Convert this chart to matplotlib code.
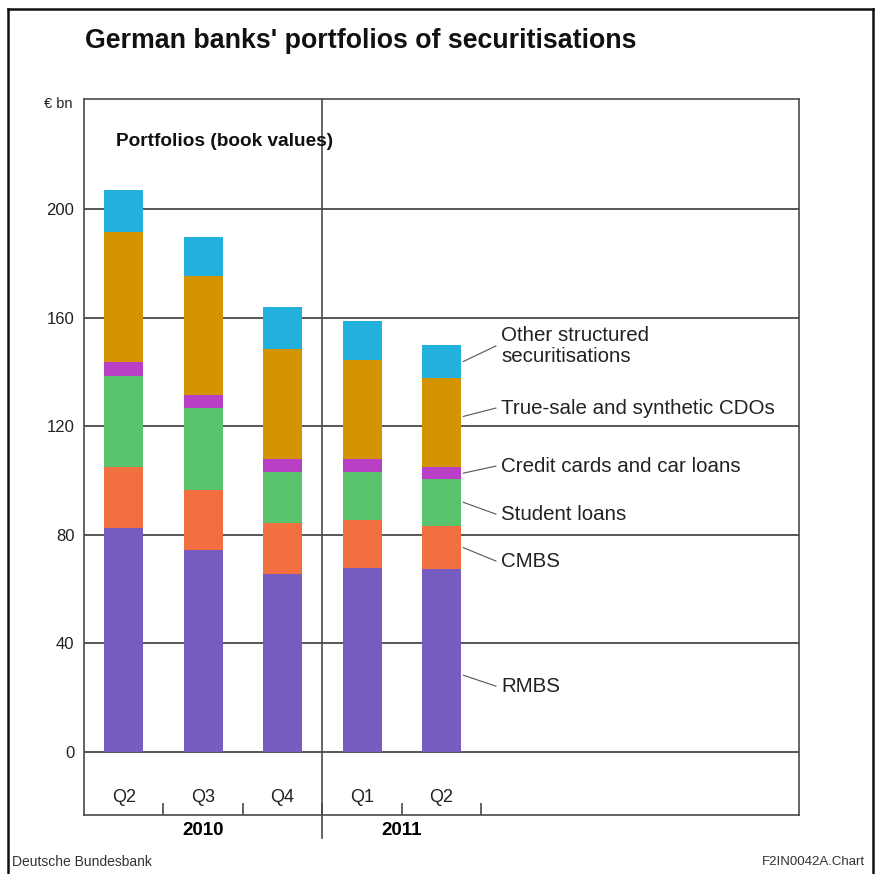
import matplotlib
matplotlib.use("Agg")
import matplotlib.pyplot as plt
from matplotlib.lines import Line2D

plt.rcParams["font.family"] = ["Liberation Sans", "DejaVu Sans"]

# Data (EUR bn, book values)
quarters = ["Q2", "Q3", "Q4", "Q1", "Q2"]
years = ["2010", "2011"]
rmbs = [82.6, 74.4, 65.5, 67.7, 67.2]
cmbs = [22.2, 22.0, 18.7, 17.7, 16.1]
student = [33.8, 30.2, 18.9, 17.7, 17.3]
credit = [5.2, 4.9, 4.8, 4.7, 4.2]
cdos = [47.9, 43.7, 40.4, 36.6, 33.0]
other = [15.4, 14.4, 15.8, 14.4, 12.1]

series = [rmbs, cmbs, student, credit, cdos, other]
names = ["RMBS", "CMBS", "Student loans", "Credit cards and car loans",
         "True-sale and synthetic CDOs", "Other structured\nsecuritisations"]
colors = ["#775DC1", "#F26F42", "#58C56E", "#B940C6", "#D49400", "#22B0DF"]

# label layout for the last bar
label_y = [24.2, 70.3, 87.6, 105.3, 126.7, 149.6]
leader_frac = [0.42, 0.5, 0.5, 0.5, 0.57, 0.5]

fig = plt.figure(figsize=(8.76, 8.74), dpi=100)
ax = fig.add_axes([84 / 876, 1 - 815 / 874, 715 / 876, 715.7 / 874])

x = [i + 0.5 for i in range(len(quarters))]
bottom = [0.0] * len(quarters)
last_bottoms = []
for vals, col in zip(series, colors):
    ax.bar(x, vals, width=0.49, bottom=bottom, color=col, edgecolor="none", zorder=3)
    last_bottoms.append(bottom[-1])
    bottom = [b + v for b, v in zip(bottom, vals)]

ax.set_xlim(0, 9)
ax.set_ylim(-23.3, 240.5)

# gridlines
ax.set_yticks([0, 40, 80, 120, 160, 200])
ax.yaxis.grid(True, color="#4a4a4a", linewidth=1.3, zorder=1)
ax.set_axisbelow(True)
ax.tick_params(axis="y", length=0, pad=7, labelsize=12, labelcolor="#222222")

# bottom ticks between quarters
ax.set_xticks([1, 2, 3, 4, 5])
ax.set_xticklabels([])
ax.tick_params(axis="x", direction="in", length=9, width=1.2, color="#4a4a4a")

for s in ax.spines.values():
    s.set_color("#4a4a4a")
    s.set_linewidth(1.2)

# year divider
ax.plot([3, 3], [-31.8, 240.5], color="#4a4a4a", linewidth=1.2, clip_on=False, zorder=2)

for xi, q in zip(x, quarters):
    ax.text(xi, -16.7, q, ha="center", va="center", fontsize=13, color="#222222")
ax.text(1.5, -29.0, years[0], ha="center", va="center", fontsize=13.5, fontweight="bold")
ax.text(4.0, -29.0, years[1], ha="center", va="center", fontsize=13.5, fontweight="bold")

# series labels with leader lines
bar_right = x[-1] + 0.245
for vals, nm, ly, fr, b0 in zip(series, names, label_y, leader_frac, last_bottoms):
    y0 = b0 + fr * vals[-1]
    ax.plot([bar_right + 0.03, bar_right + 0.44], [y0, ly], color="#555555",
            linewidth=0.8, zorder=4)
    ax.text(bar_right + 0.51, ly, nm, ha="left", va="center", fontsize=14.8,
            color="#222222", linespacing=1.12)

ax.text(0.4, 225, "Portfolios (book values)", ha="left", va="center",
        fontsize=13.7, fontweight="bold", color="#111111")

fig.text(73 / 876, 1 - 104 / 874, "€ bn", ha="right", va="center", fontsize=10.5, color="#222222")
fig.text(85 / 876, 1 - 41 / 874, "German banks' portfolios of securitisations",
         ha="left", va="center", fontsize=19.3, fontweight="bold", color="#111111")
fig.text(12 / 876, 1 - 862 / 874, "Deutsche Bundesbank", ha="left", va="center",
         fontsize=10, color="#333333")
fig.text(865 / 876, 1 - 862 / 874, "F2IN0042A.Chart", ha="right", va="center",
         fontsize=9.5, color="#333333")

# outer frame (open at bottom)
frame = dict(color="#111111", linewidth=1.8, transform=fig.transFigure)
fig.add_artist(Line2D([8 / 876, 8 / 876], [0, 1 - 9 / 874], **frame))
fig.add_artist(Line2D([8 / 876, 873 / 876], [1 - 9 / 874, 1 - 9 / 874], **frame))
fig.add_artist(Line2D([873 / 876, 873 / 876], [0, 1 - 9 / 874], **frame))

fig.savefig("out.png", dpi=100)
